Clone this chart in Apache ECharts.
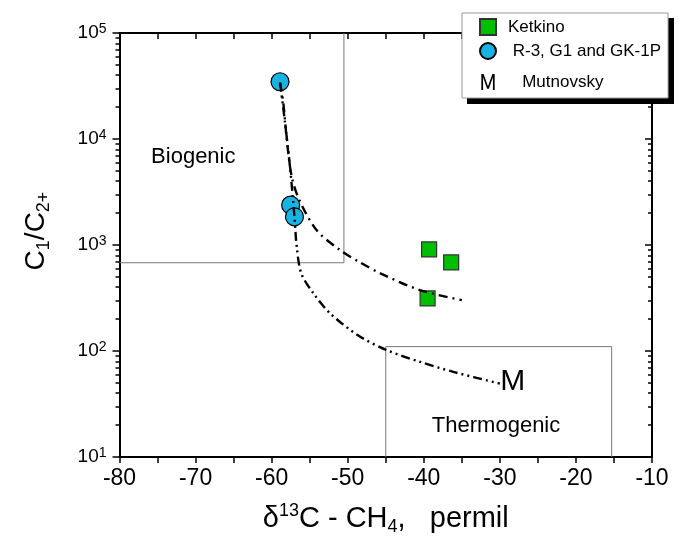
<!DOCTYPE html>
<html>
<head>
<meta charset="utf-8">
<script src="https://cdn.jsdelivr.net/npm/echarts@6/dist/echarts.min.js"></script>
<style>
html, body { margin: 0; padding: 0; background: #fff; }
#main { width: 683px; height: 547px; }
</style>
</head>
<body>
<div id="main"></div>
<script>
// values
var ketkinoX = [-39.3, -36.4, -39.5];
var ketkinoY = [908, 685, 313];
var wellX = [-58.9, -57.5, -57.0];
var wellY = [34700, 2380, 1845];
var mutnovskyX = [-28.3];
var mutnovskyY = [51];

// dash-dot curve (upper)
var upperX = [-58.9, -58.46, -58.0, -57.36, -56.36, -54.1, -51.0, -48.5, -45.7, -40.5, -35.0];
var upperY = [34000, 21700, 9780, 4400, 2655, 1383, 895, 693, 540, 375, 302];
// dash-dot-dot curve (lower, ending at M)
var lowerX = [-58.9, -58.24, -57.59, -57.0, -56.7, -56.1, -54.5, -52.3, -48.6, -44.9, -40.5, -36.1, -30.0];
var lowerY = [34000, 14200, 5470, 1845, 962, 539, 349, 226, 140, 102, 79, 63.5, 49.3];

// field boxes
var bioBoxX = [-50.5, -50.5, -80];
var bioBoxY = [100000, 680, 680];
var thermoBoxX = [-45, -45, -15.3, -15.3];
var thermoBoxY = [10, 110, 110, 10];
var regionNames = ['Biogenic', 'Thermogenic'];
var regionX = [-70.3, -30.5];
var regionY = [6760, 19.6];

var decades = [10, 100, 1000, 10000, 100000];
var minorSteps = [2, 3, 4, 5, 6, 7, 8, 9];

var font = 'Liberation Sans, Arial, sans-serif';

function pts(xs, ys) {
    return xs.map(function (x, i) { return [x, ys[i]]; });
}
var minorTicks = [];
decades.slice(0, 4).forEach(function (d) {
    minorSteps.forEach(function (k) { minorTicks.push(k * d); });
});

var myChart = echarts.init(document.getElementById('main'));

var axisLine = { show: true, lineStyle: { color: '#000', width: 2 } };
var tickStyle = { color: '#000', width: 1.5 };

function yAxisOf(position, ticks, len, inside, withLabels) {
    return {
        type: 'log', logBase: 10, min: 10, max: 100000, position: position,
        axisLine: axisLine,
        axisTick: { show: true, inside: inside, length: len, lineStyle: tickStyle, customValues: ticks },
        axisLabel: withLabels ? {
            show: true, margin: 13, customValues: decades,
            formatter: function (v) { return '{b|10}{s|' + Math.round(Math.log10(v)) + '}'; },
            rich: {
                b: { fontSize: 19, lineHeight: 22, fontFamily: font, color: '#000' },
                s: { fontSize: 14, lineHeight: 14, verticalAlign: 'top', fontFamily: font, color: '#000' }
            }
        } : { show: false },
        splitLine: { show: false }
    };
}

var option = {
    animation: false,
    backgroundColor: '#fff',
    grid: { left: 119.5, right: 31, top: 33, bottom: 90, outerBoundsMode: 'none' },
    // black drop shadow behind the legend box
    graphic: [{
        type: 'rect', z: 0, silent: true,
        shape: { x: 467, y: 18, width: 207, height: 86 },
        style: { fill: '#000' }
    }],
    legend: {
        orient: 'vertical', left: 462, top: 13, z: 10,
        padding: [5, 7, 0, 17], itemGap: 6, itemWidth: 16, itemHeight: 16,
        backgroundColor: '#fff', borderColor: '#999', borderWidth: 1,
        selectedMode: false,
        textStyle: { fontSize: 17, color: '#000', fontFamily: font, padding: [0, 0, 0, 7] },
        data: [
            { name: 'Ketkino', icon: 'rect' },
            { name: 'R-3, G1 and GK-1P', icon: 'circle' },
            { name: 'Mutnovsky', icon: 'path://M0,24 L0,0 L3.4,0 L10,18.5 L16.6,0 L20,0 L20,24 L17.4,24 L17.4,5 L11.3,22 L8.7,22 L2.6,5 L2.6,24 Z',
              textStyle: { lineHeight: 32 } }
        ],
        formatter: function (n) {
            if (n === 'R-3, G1 and GK-1P') return ' ' + n;
            if (n === 'Mutnovsky') return '   ' + n;
            return n;
        }
    },
    xAxis: [{
        type: 'value', min: -80, max: -10, interval: 5, position: 'bottom',
        name: '{b|\u03b4}{sup|13}{b|C - CH}{sub|4}{b|,   permil}',
        nameLocation: 'middle', nameGap: 45,
        nameTextStyle: {
            rich: {
                b: { fontSize: 29, lineHeight: 34, fontFamily: font, color: '#000' },
                sup: { fontSize: 18, lineHeight: 18, verticalAlign: 'top', fontFamily: font, color: '#000' },
                sub: { fontSize: 18, lineHeight: 16, verticalAlign: 'bottom', fontFamily: font, color: '#000' }
            }
        },
        axisLine: axisLine,
        axisTick: { show: true, length: 6, lineStyle: tickStyle },
        axisLabel: {
            margin: 10, fontSize: 23, color: '#000', fontFamily: font,
            formatter: function (v) { return v % 10 === 0 ? String(v) : ''; }
        },
        splitLine: { show: false }
    }, {
        type: 'value', min: -80, max: -10, interval: 5, position: 'top',
        axisLine: axisLine,
        axisTick: { show: true, inside: true, length: 6, lineStyle: tickStyle },
        axisLabel: { show: false },
        splitLine: { show: false }
    }],
    yAxis: [
        Object.assign(yAxisOf('left', decades, 7, false, true), {
            name: '{b|C}{s|1}{b|/C}{s|2+}',
            nameLocation: 'middle', nameGap: 66,
            nameTextStyle: {
                padding: [0, 0, 0, 28],
                rich: {
                    b: { fontSize: 28, lineHeight: 34, fontFamily: font, color: '#000' },
                    s: { fontSize: 18, lineHeight: 16, verticalAlign: 'bottom', fontFamily: font, color: '#000' }
                }
            }
        }),
        yAxisOf('left', minorTicks, 4, false, false),
        yAxisOf('right', decades, 7, true, false),
        yAxisOf('right', minorTicks, 4, true, false)
    ],
    series: [
        {
            name: 'bioBox', type: 'line', silent: true, symbol: 'none',
            data: pts(bioBoxX, bioBoxY),
            lineStyle: { color: '#777', width: 1 }
        },
        {
            name: 'thermoBox', type: 'line', silent: true, symbol: 'none',
            data: pts(thermoBoxX, thermoBoxY),
            lineStyle: { color: '#777', width: 1 }
        },
        {
            name: 'regions', type: 'scatter', silent: true, symbolSize: 0,
            data: regionNames.map(function (n, i) { return { name: n, value: [regionX[i], regionY[i]] }; }),
            itemStyle: { opacity: 1 },
            label: {
                show: true, position: 'inside', formatter: '{b}', color: '#000', fontFamily: font,
                fontSize: 22, opacity: 1
            }
        },
        {
            name: 'R-3, G1 and GK-1P', type: 'scatter', symbol: 'circle', symbolSize: 18,
            data: pts(wellX, wellY),
            itemStyle: { color: '#17b4e3', borderColor: '#000', borderWidth: 1.2, opacity: 1 }
        },
        {
            name: 'Ketkino', type: 'scatter', symbol: 'rect', symbolSize: 15,
            data: pts(ketkinoX, ketkinoY),
            itemStyle: { color: '#00bf00', borderColor: '#333', borderWidth: 1.2, opacity: 1 }
        },
        {
            name: 'upper', type: 'line', silent: true, symbol: 'none', smooth: 0.3,
            data: pts(upperX, upperY),
            lineStyle: { color: '#000', width: 2.4, type: [9, 5, 2, 5] }
        },
        {
            name: 'lower', type: 'line', silent: true, symbol: 'none', smooth: 0.3,
            data: pts(lowerX, lowerY),
            lineStyle: { color: '#000', width: 2.4, type: [9, 4, 2, 4, 2, 4] }
        },
        {
            name: 'Mutnovsky', type: 'scatter', silent: true, symbol: 'circle', symbolSize: 0,
            data: pts(mutnovskyX, mutnovskyY),
            itemStyle: { color: '#000', opacity: 1 },
            label: {
                show: true, position: 'inside', formatter: 'M', color: '#000',
                fontFamily: font, fontSize: 30, opacity: 1
            }
        }
    ]
};

myChart.setOption(option);
</script>
</body>
</html>
